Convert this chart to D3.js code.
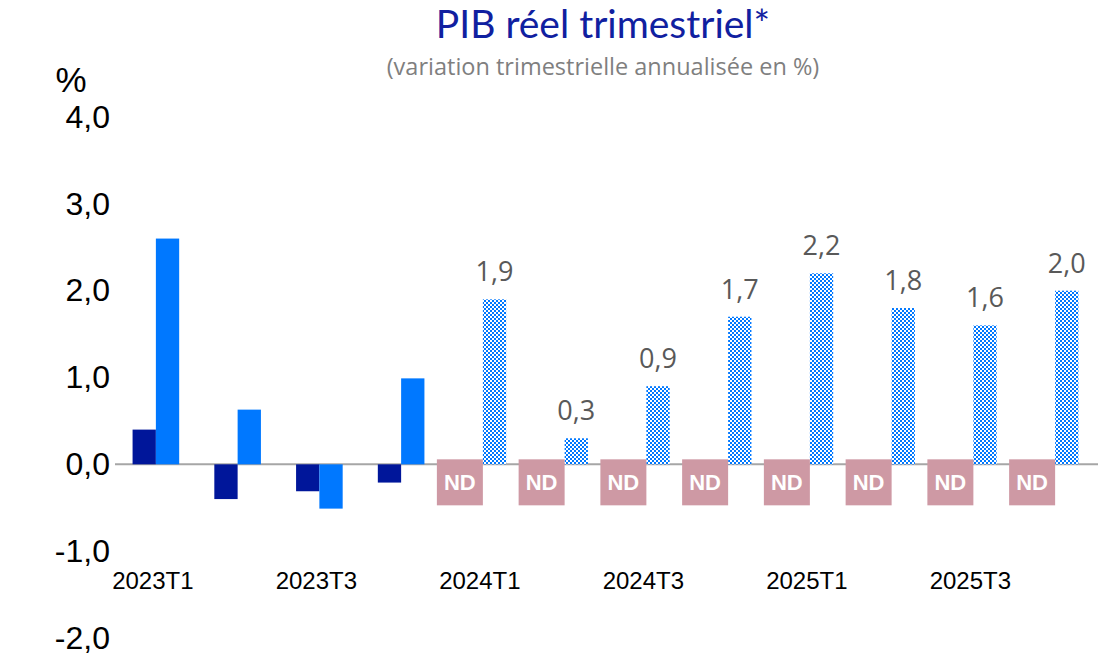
<!DOCTYPE html>
<html>
<head>
<meta charset="utf-8">
<script src="https://cdn.jsdelivr.net/npm/d3@7"></script>
<style>
  body { margin: 0; background: #ffffff; }
  svg { display: block; }
</style>
</head>
<body>
<script>
// quarters, values
var quarters = ["2023T1", "2023T2", "2023T3", "2023T4",
                "2024T1", "2024T2", "2024T3", "2024T4",
                "2025T1", "2025T2", "2025T3", "2025T4"];
var darkVals = [0.40, -0.40, -0.31, -0.21, null, null, null, null, null, null, null, null];
var lightVals = [2.60, 0.63, -0.51, 0.99, null, null, null, null, null, null, null, null];
var forecastVals = [null, null, null, null, 1.9, 0.3, 0.9, 1.7, 2.2, 1.8, 1.6, 2.0];
var ndFlags = [false, false, false, false, true, true, true, true, true, true, true, true];
var xTickLabels = ["2023T1", "2023T3", "2024T1", "2024T3", "2025T1", "2025T3"];
var yTicks = [-2, -1, 0, 1, 2, 3, 4];

var w = 1098,
    h = 655;

var darkCol = "#00169A",
    lightCol = "#0078FF",
    ndCol = "#CE99A4";

var fr = d3.formatLocale({decimal: ",", thousands: " ", grouping: [3], currency: ["", "€"], minus: "-"});
var fmt = fr.format(".1f");

var svg = d3.select("body").append("svg")
    .attr("width", w)
    .attr("height", h);

// checker pattern for the forecast bars
var defs = svg.append("defs");
var pat = defs.append("pattern")
    .attr("id", "checker")
    .attr("patternUnits", "userSpaceOnUse")
    .attr("width", 4)
    .attr("height", 4);
pat.append("rect").attr("width", 4).attr("height", 4).attr("fill", "white");
pat.append("rect").attr("x", 0).attr("y", 0).attr("width", 2).attr("height", 2).attr("fill", lightCol);
pat.append("rect").attr("x", 2).attr("y", 2).attr("width", 2).attr("height", 2).attr("fill", lightCol);

var x = d3.scaleBand()
    .domain(quarters)
    .range([115, 1096])
    .padding(0);

var y = d3.scaleLinear()
    .domain([-2, 4])
    .range([638, 117]);

var barW = 23.3;

// Title
svg.append("text")
  .attr("x", 603)
  .attr("y", 38)
  .attr("text-anchor", "middle")
  .style("font-family", "Lato")
  .style("font-size", "39px")
  .style("fill", "#1020A0")
  .text("PIB réel trimestriel*");

svg.append("text")
  .attr("x", 603)
  .attr("y", 75)
  .attr("text-anchor", "middle")
  .style("font-family", "Open Sans")
  .style("font-size", "23.5px")
  .style("fill", "#7F7F7F")
  .text("(variation trimestrielle annualisée en %)");

svg.append("text")
  .attr("x", 71)
  .attr("y", 92)
  .attr("text-anchor", "middle")
  .style("font-family", "Liberation Sans")
  .style("font-size", "35px")
  .style("fill", "black")
  .text("%");

// Y axis
var yAxis = svg.append("g")
  .attr("transform", "translate(110,0)")
  .call(d3.axisLeft(y).tickValues(yTicks).tickSize(0).tickPadding(0).tickFormat(fmt));
yAxis.select(".domain").remove();
yAxis.selectAll("text")
  .style("font-family", "Liberation Sans")
  .style("font-size", "32px")
  .style("fill", "black");

// X axis
var xAxis = svg.append("g")
  .attr("transform", "translate(0,572)")
  .call(d3.axisBottom(x).tickValues(xTickLabels).tickSize(0).tickPadding(0));
xAxis.select(".domain").remove();
xAxis.selectAll("text")
  .attr("dx", "-3")
  .style("font-family", "Liberation Sans")
  .style("font-size", "24px")
  .style("fill", "black");

function cx(q) { return x(q) + x.bandwidth() / 2; }

// zero line
svg.append("line")
  .attr("x1", x.range()[0])
  .attr("x2", w)
  .attr("y1", y(0))
  .attr("y2", y(0))
  .attr("stroke", "#A6A6A6")
  .attr("stroke-width", 2);

// dark bars
svg.selectAll(".dark")
  .data(quarters.filter(function(q, i) { return darkVals[i] !== null; }))
  .enter().append("rect")
  .attr("x", function(q) { return cx(q) - barW; })
  .attr("width", barW)
  .attr("y", function(q) { return y(Math.max(0, darkVals[quarters.indexOf(q)])); })
  .attr("height", function(q) { return Math.abs(y(darkVals[quarters.indexOf(q)]) - y(0)); })
  .attr("fill", darkCol);

// light bars
svg.selectAll(".light")
  .data(quarters.filter(function(q, i) { return lightVals[i] !== null; }))
  .enter().append("rect")
  .attr("x", function(q) { return cx(q); })
  .attr("width", barW)
  .attr("y", function(q) { return y(Math.max(0, lightVals[quarters.indexOf(q)])); })
  .attr("height", function(q) { return Math.abs(y(lightVals[quarters.indexOf(q)]) - y(0)); })
  .attr("fill", lightCol);

// forecast bars (checker)
var fq = quarters.filter(function(q, i) { return forecastVals[i] !== null; });
svg.selectAll(".fc")
  .data(fq)
  .enter().append("rect")
  .attr("x", function(q) { return cx(q); })
  .attr("width", barW)
  .attr("y", function(q) { return y(forecastVals[quarters.indexOf(q)]); })
  .attr("height", function(q) { return y(0) - y(forecastVals[quarters.indexOf(q)]); })
  .attr("fill", "url(#checker)");

svg.selectAll(".fcLab")
  .data(fq)
  .enter().append("text")
  .attr("x", function(q) { return cx(q) + barW / 2; })
  .attr("y", function(q) { return y(forecastVals[quarters.indexOf(q)]) - 18; })
  .attr("text-anchor", "middle")
  .style("font-family", "Open Sans")
  .style("font-size", "27px")
  .style("fill", "#595959")
  .text(function(q) { return fmt(forecastVals[quarters.indexOf(q)]); });

// ND boxes
var nq = quarters.filter(function(q, i) { return ndFlags[i]; });
var nd = svg.selectAll(".nd")
  .data(nq)
  .enter().append("g")
  .attr("transform", function(q) { return "translate(" + (cx(q) - 46) + "," + (y(0) - 5) + ")"; });
nd.append("rect")
  .attr("width", 46)
  .attr("height", 46)
  .attr("fill", ndCol);
nd.append("text")
  .attr("x", 23)
  .attr("y", 31)
  .attr("text-anchor", "middle")
  .style("font-family", "Liberation Sans")
  .style("font-weight", "bold")
  .style("font-size", "22px")
  .style("fill", "white")
  .text("ND");
</script>
</body>
</html>
